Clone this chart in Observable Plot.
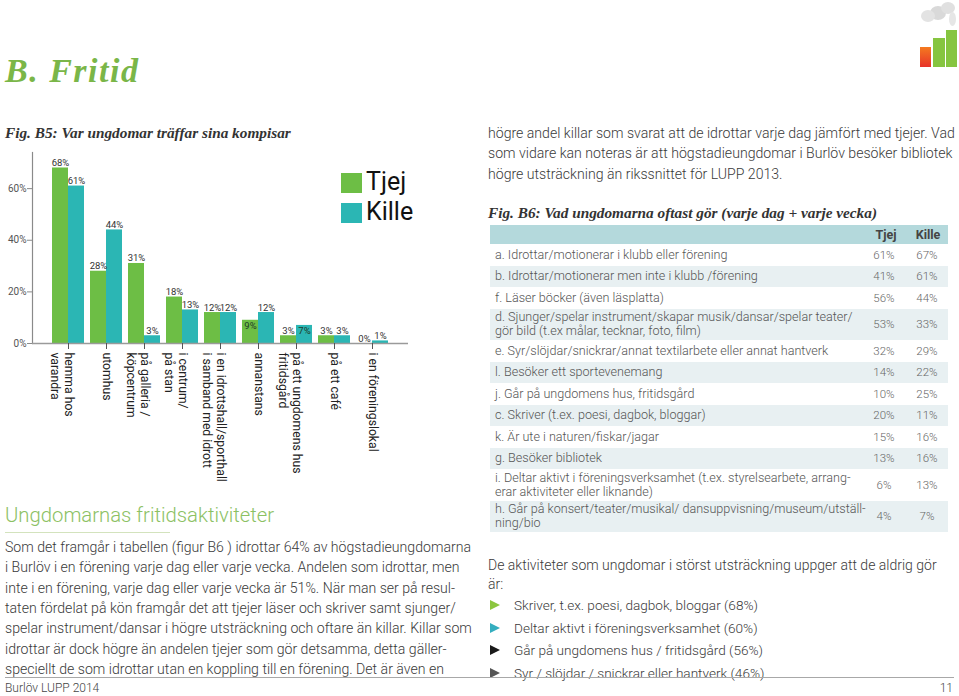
<!DOCTYPE html>
<html><head><meta charset="utf-8">
<script src="https://cdn.jsdelivr.net/npm/d3@7"></script>
<script src="https://cdn.jsdelivr.net/npm/@observablehq/plot@0.6"></script>
<style>
html,body{margin:0;padding:0;background:#fff;}
#page{position:relative;width:959px;height:696px;overflow:hidden;font-family:Roboto,"Liberation Sans",sans-serif;color:#3a3a3a;}
.abs{position:absolute;white-space:nowrap;}
.serif{font-family:"Liberation Serif","DejaVu Serif",serif;font-weight:bold;font-style:italic;}
.txt{font-size:14.1px;font-weight:300;line-height:20px;}
#chart{position:absolute;left:0;top:145px;}
.row{position:absolute;left:490px;width:458px;display:flex;align-items:center;font-size:12.6px;color:#555;font-weight:300;}
.row .lab{padding-left:5px;line-height:14px;flex:1;white-space:nowrap;}
.row .p{position:absolute;font-size:11.5px;width:40px;text-align:center;color:#666;}
.tri{position:absolute;width:0;height:0;border-top:5px solid transparent;border-bottom:5px solid transparent;border-left:10px solid #000;}
</style></head>
<body><div id="page"></div>
<script>
// ---------- data ----------
const categories = ["hemma hos\nvarandra","utomhus","på galleria /\nköpcentrum","i centrum/\npå stan","i en idrottshall/sporthall\ni samband med idrott","annanstans","på ett ungdomens hus\nfritidsgård","på ett café","i en föreningslokal"];
const tjej  = [68, 28, 31, 18, 12, 9, 3, 3, 0];
const kille = [61, 44, 3, 13, 12, 12, 7, 3, 1];
const yTicks = [0, 20, 40, 60];
const series = ["Tjej", "Kille"];

const tableRows = ["a. Idrottar/motionerar i klubb eller förening","b. Idrottar/motionerar men inte i klubb /förening","f. Läser böcker (även läsplatta)","d. Sjunger/spelar instrument/skapar musik/dansar/spelar teater/\ngör bild (t.ex målar, tecknar, foto, film)","e. Syr/slöjdar/snickrar/annat textilarbete eller annat hantverk","l. Besöker ett sportevenemang","j. Går på ungdomens hus, fritidsgård","c. Skriver (t.ex. poesi, dagbok, bloggar)","k. Är ute i naturen/fiskar/jagar","g. Besöker bibliotek","i. Deltar aktivt i föreningsverksamhet (t.ex. styrelsearbete, arrang-\nerar aktiviteter eller liknande)","h. Går på konsert/teater/musikal/ dansuppvisning/museum/utställ-\nning/bio"];
const tableTjej  = [61, 41, 56, 53, 32, 14, 10, 20, 15, 13, 6, 4];
const tableKille = [67, 61, 44, 33, 29, 22, 25, 11, 16, 16, 13, 7];

const rightTop = ["högre andel killar som svarat att de idrottar varje dag jämfört med tjejer. Vad","som vidare kan noteras är att högstadieungdomar i Burlöv besöker bibliotek","högre utsträckning än rikssnittet för LUPP 2013."];
const leftPara = ["Som det framgår i tabellen (figur B6 ) idrottar 64% av högstadieungdomarna","i Burlöv i en förening varje dag eller varje vecka. Andelen som idrottar, men","inte i en förening, varje dag eller varje vecka är 51%. När man ser på resul-","taten fördelat på kön framgår det att tjejer läser och skriver samt sjunger/","spelar instrument/dansar i högre utsträckning och oftare än killar. Killar som","idrottar är dock högre än andelen tjejer som gör detsamma, detta gäller-","speciellt de som idrottar utan en koppling till en förening. Det är även en"];
const rightBottom = ["De aktiviteter som ungdomar i störst utsträckning uppger att de aldrig gör","är:"];
const bullets = [" Skriver, t.ex. poesi, dagbok, bloggar (68%)","Deltar aktivt i föreningsverksamhet (60%)","Går på ungdomens hus / fritidsgård (56%)","Syr / slöjdar / snickrar eller hantverk (46%)"];
const bulletColors = ["#8cc63f","#35aebf","#1a1a1a","#555"];

// ---------- page ----------
const page = document.getElementById("page");
function add(html, style, cls="abs"){const d=document.createElement("div");d.className=cls;d.innerHTML=html;d.setAttribute("style",style);page.appendChild(d);return d;}

// logo
add("", "left:930px;top:6px;width:16px;height:14px;border-radius:50%;background:#d9d9d9;");
add("", "left:921px;top:10px;width:14px;height:12px;border-radius:50%;background:#e3e3e3;");
add("", "left:941px;top:2px;width:14px;height:12px;border-radius:50%;background:#e0e0e0;");
add("", "left:949px;top:12px;width:7px;height:14px;border-radius:50%;background:#e6e6e6;");
add("", "left:920px;top:47px;width:11px;height:20px;background:linear-gradient(#f47a20,#e8332a);");
add("", "left:933px;top:38px;width:12px;height:29px;background:#86c540;");
add("", "left:946px;top:30px;width:11px;height:37px;background:#86c540;");

add("B. Fritid", "left:5px;top:54px;font-size:34px;line-height:34px;color:#7ab648;letter-spacing:1.5px;", "abs serif");
add("Fig. B5: Var ungdomar träffar sina kompisar", "left:5px;top:125px;font-size:15.3px;line-height:16px;color:#333;", "abs serif");
add("Fig. B6: Vad ungdomarna oftast gör (varje dag + varje vecka)", "left:488px;top:205px;font-size:15.3px;line-height:16px;color:#333;", "abs serif");

rightTop.forEach((t,i)=>add(t, `left:488px;top:${123+i*20.3}px;`, "abs txt"));
leftPara.forEach((t,i)=>add(t, `left:5px;top:${537+i*20.3}px;`, "abs txt"));
rightBottom.forEach((t,i)=>add(t, `left:488px;top:${555+i*19}px;font-size:14px;`, "abs txt"));
bullets.forEach((t,i)=>{
  add("", `left:490px;top:${600+i*22.7}px;border-left-color:${bulletColors[i]};`, "tri");
  add(t, `left:514px;top:${595+i*22.7}px;font-size:13.6px;`, "abs txt");
});

add("Ungdomarnas fritidsaktiviteter", "left:5px;top:503px;font-size:20.3px;line-height:24px;color:#8cc163;font-weight:300;");
add("", "left:5px;top:532px;width:165px;height:1px;background:#d3e3bd;");
add("", "left:5px;top:677px;width:949px;height:1px;background:#a8a8a8;");
add("Burlöv LUPP 2014", "left:5px;top:681px;font-size:12px;line-height:14px;color:#444;font-weight:300;");
add("11", "right:6px;top:681px;font-size:12px;line-height:14px;color:#444;font-weight:300;");

// legend
series.forEach((s,i)=>{
  add("", `left:341px;top:${173+i*30}px;width:21px;height:20px;background:${i?"#2bb6b4":"#6dbe45"};`);
  add(s, `left:366px;top:${167+i*30}px;font-size:25px;line-height:30px;color:#111;`);
});

// table
add("", "left:490px;top:225px;width:458px;height:19px;background:#b4d9dc;");
add("Tjej", "left:866px;top:227px;width:40px;text-align:center;font-size:12.5px;font-weight:bold;color:#444;line-height:15px;");
add("Kille", "left:908px;top:227px;width:40px;text-align:center;font-size:12.5px;font-weight:bold;color:#444;line-height:15px;");
let ty = 244;
tableRows.forEach((t,i)=>{
  const two = t.includes("\n");
  const h = two ? 31.5 : 21.5;
  add(`<div class="lab">${t.replace("\n","<br>")}</div><div class="p" style="left:374px">${tableTjej[i]}%</div><div class="p" style="left:417px">${tableKille[i]}%</div>`,
    `top:${ty}px;height:${h}px;background:${i%2?"#e8f0f2":"#fff"};`, "row");
  ty += h;
});

// ---------- chart ----------
const data = categories.flatMap((c,i)=>[{cat:c,g:"Tjej",v:tjej[i]},{cat:c,g:"Kille",v:kille[i]}]);
const color = {Tjej:"#6dbe45", Kille:"#2bb6b4"};
const inside = d => d.v >= 7 && d.v < 10; // these short labels sit inside their bar
const lab = d => d.v + "%";
const valueText = (g, dx) => [
  Plot.text(data.filter(d=>d.g===g && !inside(d)), {x:"cat", y:"v", text: lab, dx, dy:-2, lineAnchor:"bottom", fontSize:9.5, fill:"#333"}),
  Plot.text(data.filter(d=>d.g===g && inside(d)), {x:"cat", y:"v", text: lab, dx, dy:2, lineAnchor:"top", fontSize:9.5, fill:"#1e3a2a"})
];
const chart = Plot.plot({
  width: 415, height: 345,
  marginLeft: 32, marginRight: 7, marginTop: 7, marginBottom: 147,
  style: {fontFamily: "Roboto, 'Liberation Sans', sans-serif", background: "transparent"},
  x: {domain: categories, paddingInner: 0.169, paddingOuter: 0.468, axis: null},
  y: {domain: [0, 74], axis: null},
  marks: [
    Plot.barY(data.filter(d=>d.g==="Tjej"), {x:"cat", y:"v", fill: color.Tjej, insetRight: 16}),
    Plot.barY(data.filter(d=>d.g==="Kille"), {x:"cat", y:"v", fill: color.Kille, insetLeft: 16}),
    Plot.frame({anchor:"left", stroke:"#8a8a8a", strokeWidth:1.2}),
    Plot.ruleY([0], {stroke:"#9a9a9a", strokeWidth:1.5}),
    Plot.axisY({ticks: yTicks, tickFormat: d=>d+"%", tickSize: 5, tickPadding: 1, fontSize: 10, color:"#555", stroke:"#8a8a8a", label: null}),
    Plot.axisX({tickSize: 6, tickFormat: ()=>"", stroke:"#555", label: null}),
    Plot.text(categories, {x: d=>d, text: d=>d.split("\n")[0], frameAnchor:"bottom", rotate: 90, textAnchor:"start", lineAnchor:"middle", dy: 9, fontSize: 12.2, fill:"#222"}),
    Plot.text(categories.filter(d=>d.includes("\n")), {x: d=>d, text: d=>d.split("\n")[1], frameAnchor:"bottom", rotate: 90, textAnchor:"start", lineAnchor:"middle", dy: 9, dx: -14, fontSize: 12.2, fill:"#222"}),
    ...valueText("Tjej", -8),
    ...valueText("Kille", 8)
  ]
});
chart.id = "chart";
page.appendChild(chart);
</script>
</body></html>
